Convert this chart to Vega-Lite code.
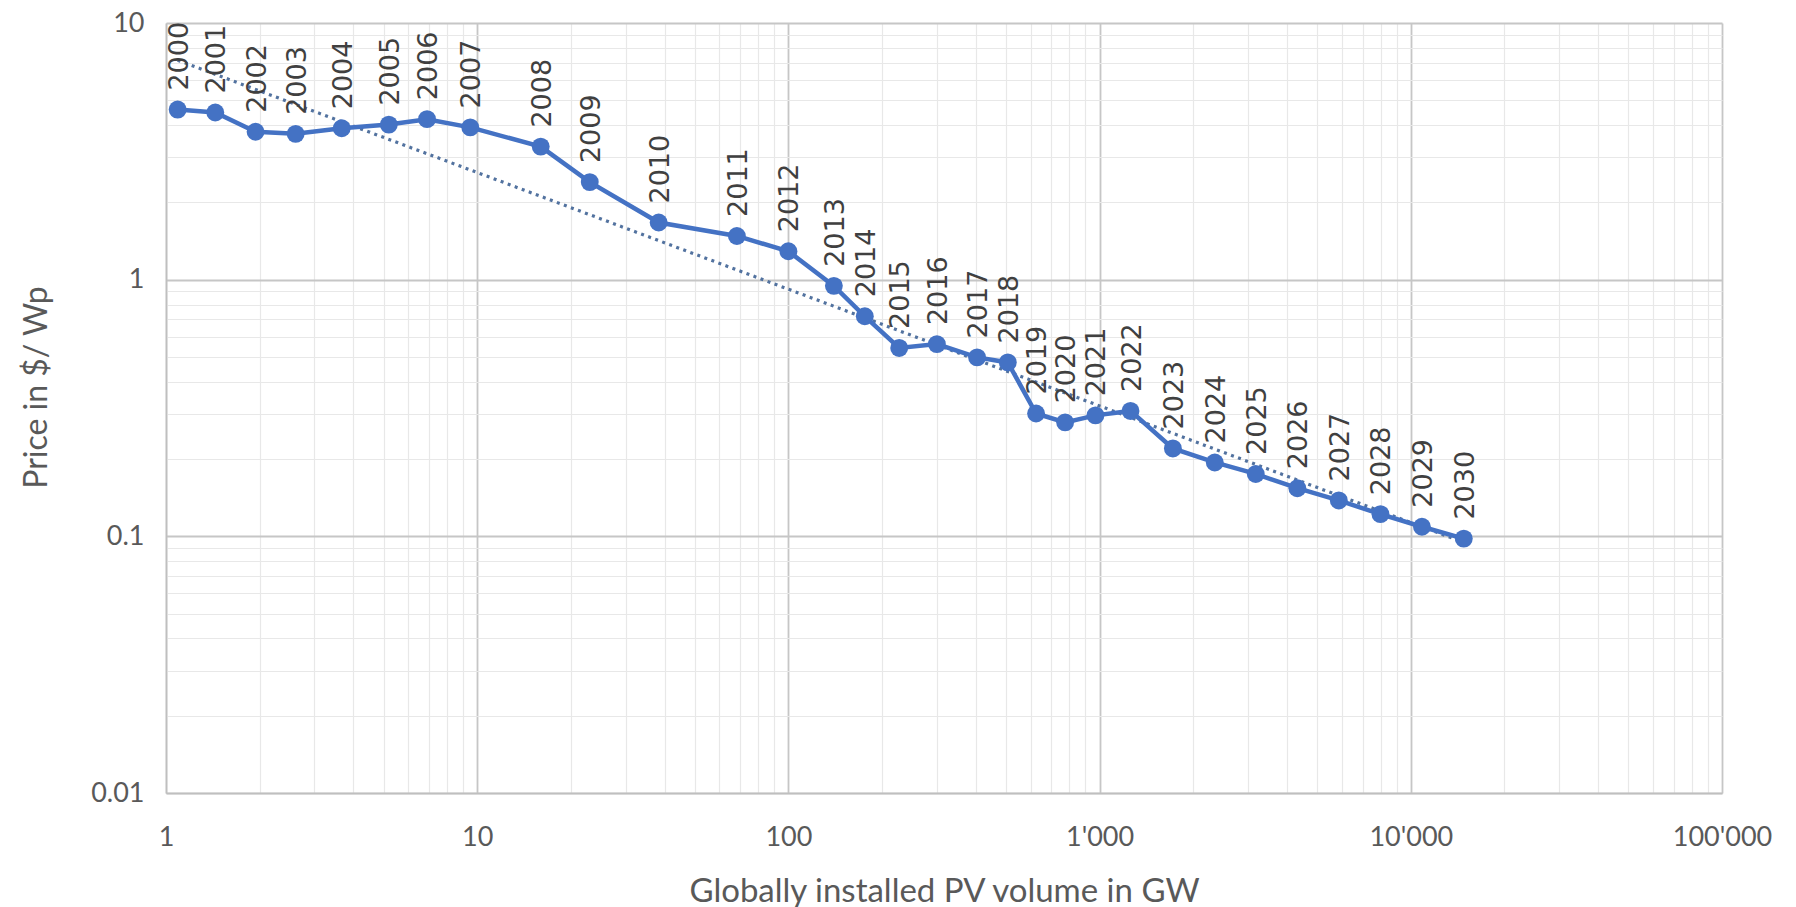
{
  "$schema": "https://vega.github.io/schema/vega-lite/v6.json",
  "autosize": {"type": "none"},
  "width": 1556,
  "height": 770,
  "padding": {"left": 166, "top": 23, "right": 74, "bottom": 114},
  "background": "white",
  "config": {
    "view": {"stroke": null},
    "font": "Lato"
  },
  "data": {
    "values": [
      {"year": "2000", "volume": 1.09, "price": 4.6},
      {"year": "2001", "volume": 1.44, "price": 4.48},
      {"year": "2002", "volume": 1.94, "price": 3.77},
      {"year": "2003", "volume": 2.61, "price": 3.70},
      {"year": "2004", "volume": 3.67, "price": 3.89},
      {"year": "2005", "volume": 5.2, "price": 4.02},
      {"year": "2006", "volume": 6.9, "price": 4.22},
      {"year": "2007", "volume": 9.5, "price": 3.92},
      {"year": "2008", "volume": 16.0, "price": 3.30},
      {"year": "2009", "volume": 23.0, "price": 2.40},
      {"year": "2010", "volume": 38.3, "price": 1.67},
      {"year": "2011", "volume": 68.3, "price": 1.48},
      {"year": "2012", "volume": 100, "price": 1.29},
      {"year": "2013", "volume": 140, "price": 0.946},
      {"year": "2014", "volume": 176, "price": 0.72},
      {"year": "2015", "volume": 227, "price": 0.542},
      {"year": "2016", "volume": 300, "price": 0.561},
      {"year": "2017", "volume": 404, "price": 0.498},
      {"year": "2018", "volume": 507, "price": 0.476},
      {"year": "2019", "volume": 625, "price": 0.301},
      {"year": "2020", "volume": 775, "price": 0.278},
      {"year": "2021", "volume": 970, "price": 0.296},
      {"year": "2022", "volume": 1257, "price": 0.308},
      {"year": "2023", "volume": 1720, "price": 0.220},
      {"year": "2024", "volume": 2345, "price": 0.194},
      {"year": "2025", "volume": 3175, "price": 0.175},
      {"year": "2026", "volume": 4320, "price": 0.154},
      {"year": "2027", "volume": 5870, "price": 0.138},
      {"year": "2028", "volume": 7990, "price": 0.122},
      {"year": "2029", "volume": 10860, "price": 0.109},
      {"year": "2030", "volume": 14800, "price": 0.098}
    ]
  },
  "encoding": {
    "x": {
      "field": "volume",
      "type": "quantitative",
      "scale": {"type": "log", "domain": [1, 100000], "nice": false},
      "axis": {
        "title": "Globally installed PV volume in GW",
        "values": [1,2,3,4,5,6,7,8,9,10,20,30,40,50,60,70,80,90,100,200,300,400,500,600,700,800,900,1000,2000,3000,4000,5000,6000,7000,8000,9000,10000,20000,30000,40000,50000,60000,70000,80000,90000,100000],
        "labelExpr": "abs(log(datum.value)/LN10 - round(log(datum.value)/LN10)) < 0.000001 ? (datum.value >= 1000 ? replace(format(datum.value, ','), ',', \"'\") : toString(datum.value)) : ''",
        "ticks": false,
        "tickSize": 0,
        "labelPadding": 31,
        "labelFontSize": 27,
        "labelColor": "#595959",
        "labelFont": "Lato",
        "labelFlush": false,
        "labelOverlap": false,
        "labelBound": false,
        "domainColor": "#bfbfbf",
        "domainWidth": 1.5,
        "grid": true,
        "gridColor": {"condition": {"test": "abs(log(datum.value)/LN10 - round(log(datum.value)/LN10)) < 0.000001", "value": "#c6c6c6"}, "value": "#e8e8e8"},
        "gridWidth": {"condition": {"test": "abs(log(datum.value)/LN10 - round(log(datum.value)/LN10)) < 0.000001", "value": 1.8}, "value": 1.2},
        "titleFontSize": 33,
        "titleFontWeight": "normal",
        "titleColor": "#595959",
        "titleFont": "Lato",
        "titlePadding": 25
      }
    },
    "y": {
      "field": "price",
      "type": "quantitative",
      "scale": {"type": "log", "domain": [0.01, 10], "nice": false},
      "axis": {
        "title": "Price in $/ Wp",
        "values": [0.01,0.02,0.03,0.04,0.05,0.06,0.07,0.08,0.09,0.1,0.2,0.3,0.4,0.5,0.6,0.7,0.8,0.9,1,2,3,4,5,6,7,8,9,10],
        "labelExpr": "abs(log(datum.value)/LN10 - round(log(datum.value)/LN10)) < 0.000001 ? toString(datum.value) : ''",
        "ticks": false,
        "tickSize": 0,
        "labelPadding": 22,
        "labelFontSize": 27,
        "labelColor": "#595959",
        "labelFont": "Lato",
        "labelFlush": false,
        "labelOverlap": false,
        "labelBound": false,
        "domainColor": "#bfbfbf",
        "domainWidth": 1.5,
        "grid": true,
        "gridColor": {"condition": {"test": "abs(log(datum.value)/LN10 - round(log(datum.value)/LN10)) < 0.000001", "value": "#c6c6c6"}, "value": "#e8e8e8"},
        "gridWidth": {"condition": {"test": "abs(log(datum.value)/LN10 - round(log(datum.value)/LN10)) < 0.000001", "value": 1.8}, "value": 1.2},
        "titleFontSize": 32,
        "titleFontWeight": "normal",
        "titleColor": "#595959",
        "titleFont": "Lato",
        "titleX": -130,
        "titleY": 364,
        "titleBaseline": "middle",
        "titleAnchor": "middle"
      }
    }
  },
  "layer": [
    {
      "transform": [
        {"regression": "price", "on": "volume", "method": "pow"}
      ],
      "mark": {"type": "line", "color": "#52729f", "strokeWidth": 3.2, "strokeDash": [3, 4.5], "clip": true},
      "encoding": {}
    },
    {
      "mark": {"type": "line", "color": "#4472C4", "strokeWidth": 4.5},
      "encoding": {}
    },
    {
      "mark": {"type": "point", "filled": true, "color": "#4472C4", "size": 320, "opacity": 1},
      "encoding": {}
    },
    {
      "mark": {"type": "text", "angle": 270, "align": "left", "baseline": "middle", "dx": 19, "dy": 2, "font": "DejaVu Sans", "fontSize": 27, "color": "#404040"},
      "encoding": {"text": {"field": "year"}}
    }
  ]
}
